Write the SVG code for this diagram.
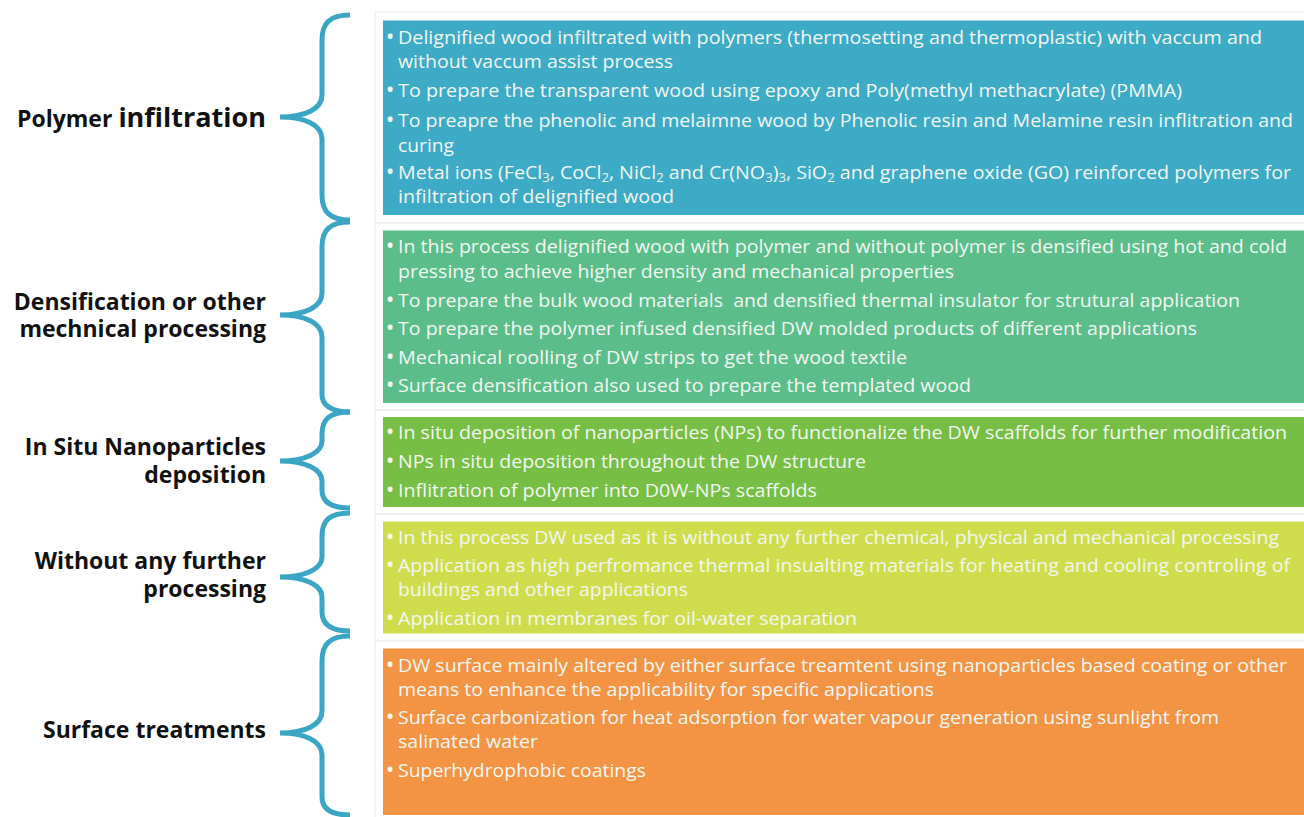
<svg xmlns="http://www.w3.org/2000/svg" width="1304" height="817" viewBox="0 0 1304 817">
<style>
.lbl{font-family:"Open Sans","Liberation Sans",sans-serif;font-weight:700;font-size:23px;fill:#111;text-anchor:end}
.big{font-size:27px}
.t{font-family:"Open Sans","Liberation Sans",sans-serif;font-size:18px;fill:#F3F7F3}
.b{font-family:"Open Sans","Liberation Sans",sans-serif;font-size:23px;fill:#F3F7F3;text-anchor:middle}
.sub{font-size:12px}
.card{fill:#fff;stroke:#e9e9e9;stroke-width:1}
.brace{fill:none;stroke:#3AA5C4;stroke-width:5}
</style>
<rect width="1304" height="817" fill="#fff"/>

<g id="connectors">
<path class="brace" d="M350,15 C330,15 322,23 322,40 L322,95 C322,109 305,117 280,117 C305,117 322,125 322,139 L322,195 C322,212 330,220 350,220"/>
<path class="brace" d="M350,222 C330,222 322,230 322,247 L322,293 C322,307 305,315 280,315 C305,315 322,323 322,337 L322,395 C322,404 330,412 350,412"/>
<path class="brace" d="M350,412 C330,412 322,419 322,434 L322,441 C322,453 305,461 280,461 C305,461 322,469 322,481 L322,490 C322,501 330,508 350,508"/>
<path class="brace" d="M350,513 C330,513 322,520 322,536 L322,557 C322,569 305,577 280,577 C305,577 322,585 322,597 L322,612 C322,624 330,631 350,631"/>
<path class="brace" d="M350,636 C330,636 322,644 322,661 L322,711 C322,725 305,733 280,733 C305,733 322,741 322,755 L322,797 C322,808 330,815 350,815"/>
</g>

<g id="label-polymer">
<text class="lbl" x="266" y="127">Polymer <tspan class="big">infiltration</tspan></text>
</g>
<g id="label-densification">
<text class="lbl"><tspan x="266" y="310">Densification or other</tspan><tspan x="266" y="337">mechnical processing</tspan></text>
</g>
<g id="label-insitu">
<text class="lbl"><tspan x="266" y="455">In Situ Nanoparticles</tspan><tspan x="266" y="483">deposition</tspan></text>
</g>
<g id="label-without">
<text class="lbl"><tspan x="266" y="569">Without any further</tspan><tspan x="266" y="597">processing</tspan></text>
</g>
<g id="label-surface">
<text class="lbl" x="266" y="738">Surface treatments</text>
</g>

<g id="box-polymer">
<rect class="card" x="375" y="12" width="935" height="211"/>
<rect x="383" y="20.5" width="921" height="194.5" fill="#3DAAC6"/>
<text class="b" x="390" y="44.5">•</text>
<text class="t" x="398" y="43.5" textLength="864" lengthAdjust="spacingAndGlyphs">Delignified wood infiltrated with polymers (thermosetting and thermoplastic) with vaccum and</text>
<text class="t" x="398" y="68" textLength="275" lengthAdjust="spacingAndGlyphs">without vaccum assist process</text>
<text class="b" x="390" y="98">•</text>
<text class="t" x="398" y="97" textLength="784" lengthAdjust="spacingAndGlyphs">To prepare the transparent wood using epoxy and Poly(methyl methacrylate) (PMMA)</text>
<text class="b" x="390" y="127.5">•</text>
<text class="t" x="398" y="126.5" textLength="895" lengthAdjust="spacingAndGlyphs">To preapre the phenolic and melaimne wood by Phenolic resin and Melamine resin inflitration and</text>
<text class="t" x="398" y="151.5" textLength="56" lengthAdjust="spacingAndGlyphs">curing</text>
<text class="b" x="390" y="180">•</text>
<text class="t" x="398" y="179" textLength="893" lengthAdjust="spacingAndGlyphs">Metal ions (FeCl<tspan class="sub" dy="3">3</tspan><tspan dy="-3">, CoCl</tspan><tspan class="sub" dy="3">2</tspan><tspan dy="-3">, NiCl</tspan><tspan class="sub" dy="3">2</tspan><tspan dy="-3"> and Cr(NO</tspan><tspan class="sub" dy="3">3</tspan><tspan dy="-3">)</tspan><tspan class="sub" dy="3">3</tspan><tspan dy="-3">, SiO</tspan><tspan class="sub" dy="3">2</tspan><tspan dy="-3"> and graphene oxide (GO) reinforced polymers for</tspan></text>
<text class="t" x="398" y="203" textLength="276" lengthAdjust="spacingAndGlyphs">infiltration of delignified wood</text>
</g>

<g id="box-densification">
<rect class="card" x="375" y="223" width="935" height="187"/>
<rect x="383" y="230.5" width="921" height="172.5" fill="#5BBD8A"/>
<text class="b" x="390" y="253.5">•</text>
<text class="t" x="398" y="252.5" textLength="889" lengthAdjust="spacingAndGlyphs">In this process delignified wood with polymer and without polymer is densified using hot and cold</text>
<text class="t" x="398" y="277.5" textLength="556" lengthAdjust="spacingAndGlyphs">pressing to achieve higher density and mechanical properties</text>
<text class="b" x="390" y="307.5">•</text>
<text class="t" x="398" y="306.5" textLength="842" lengthAdjust="spacingAndGlyphs" xml:space="preserve">To prepare the bulk wood materials  and densified thermal insulator for strutural application</text>
<text class="b" x="390" y="336">•</text>
<text class="t" x="398" y="335" textLength="799" lengthAdjust="spacingAndGlyphs">To prepare the polymer infused densified DW molded products of different applications</text>
<text class="b" x="390" y="364.5">•</text>
<text class="t" x="398" y="363.5" textLength="509" lengthAdjust="spacingAndGlyphs">Mechanical roolling of DW strips to get the wood textile</text>
<text class="b" x="390" y="393">•</text>
<text class="t" x="398" y="392" textLength="573" lengthAdjust="spacingAndGlyphs">Surface densification also used to prepare the templated wood</text>
</g>

<g id="box-insitu">
<rect class="card" x="375" y="410" width="935" height="104"/>
<rect x="383" y="417" width="921" height="90" fill="#76BE44"/>
<text class="b" x="390" y="440">•</text>
<text class="t" x="398" y="439" textLength="889" lengthAdjust="spacingAndGlyphs">In situ deposition of nanoparticles (NPs) to functionalize the DW scaffolds for further modification</text>
<text class="b" x="390" y="469">•</text>
<text class="t" x="398" y="468" textLength="468" lengthAdjust="spacingAndGlyphs">NPs in situ deposition throughout the DW structure</text>
<text class="b" x="390" y="497.5">•</text>
<text class="t" x="398" y="496.5" textLength="419" lengthAdjust="spacingAndGlyphs">Inflitration of polymer into D0W-NPs scaffolds</text>
</g>

<g id="box-without">
<rect class="card" x="375" y="514" width="935" height="127"/>
<rect x="383" y="521.5" width="921" height="112" fill="#CFDD4C"/>
<text class="b" x="390" y="544.5">•</text>
<text class="t" x="398" y="543.5" textLength="881" lengthAdjust="spacingAndGlyphs">In this process DW used as it is without any further chemical, physical and mechanical processing</text>
<text class="b" x="390" y="572.5">•</text>
<text class="t" x="398" y="571.5" textLength="892" lengthAdjust="spacingAndGlyphs">Application as high perfromance thermal insualting materials for heating and cooling controling of</text>
<text class="t" x="398" y="596" textLength="290" lengthAdjust="spacingAndGlyphs">buildings and other applications</text>
<text class="b" x="390" y="626">•</text>
<text class="t" x="398" y="625" textLength="459" lengthAdjust="spacingAndGlyphs">Application in membranes for oil-water separation</text>
</g>

<g id="box-surface">
<rect class="card" x="375" y="641" width="935" height="185"/>
<rect x="383" y="648.5" width="921" height="166.5" fill="#F29444"/>
<text class="b" x="390" y="672.5">•</text>
<text class="t" x="398" y="671.5" textLength="889" lengthAdjust="spacingAndGlyphs">DW surface mainly altered by either surface treamtent using nanoparticles based coating or other</text>
<text class="t" x="398" y="695.5" textLength="536" lengthAdjust="spacingAndGlyphs">means to enhance the applicability for specific applications</text>
<text class="b" x="390" y="724.5">•</text>
<text class="t" x="398" y="723.5" textLength="821" lengthAdjust="spacingAndGlyphs">Surface carbonization for heat adsorption for water vapour generation using sunlight from</text>
<text class="t" x="398" y="748" textLength="140" lengthAdjust="spacingAndGlyphs">salinated water</text>
<text class="b" x="390" y="778">•</text>
<text class="t" x="398" y="777" textLength="248" lengthAdjust="spacingAndGlyphs">Superhydrophobic coatings</text>
</g>
</svg>
